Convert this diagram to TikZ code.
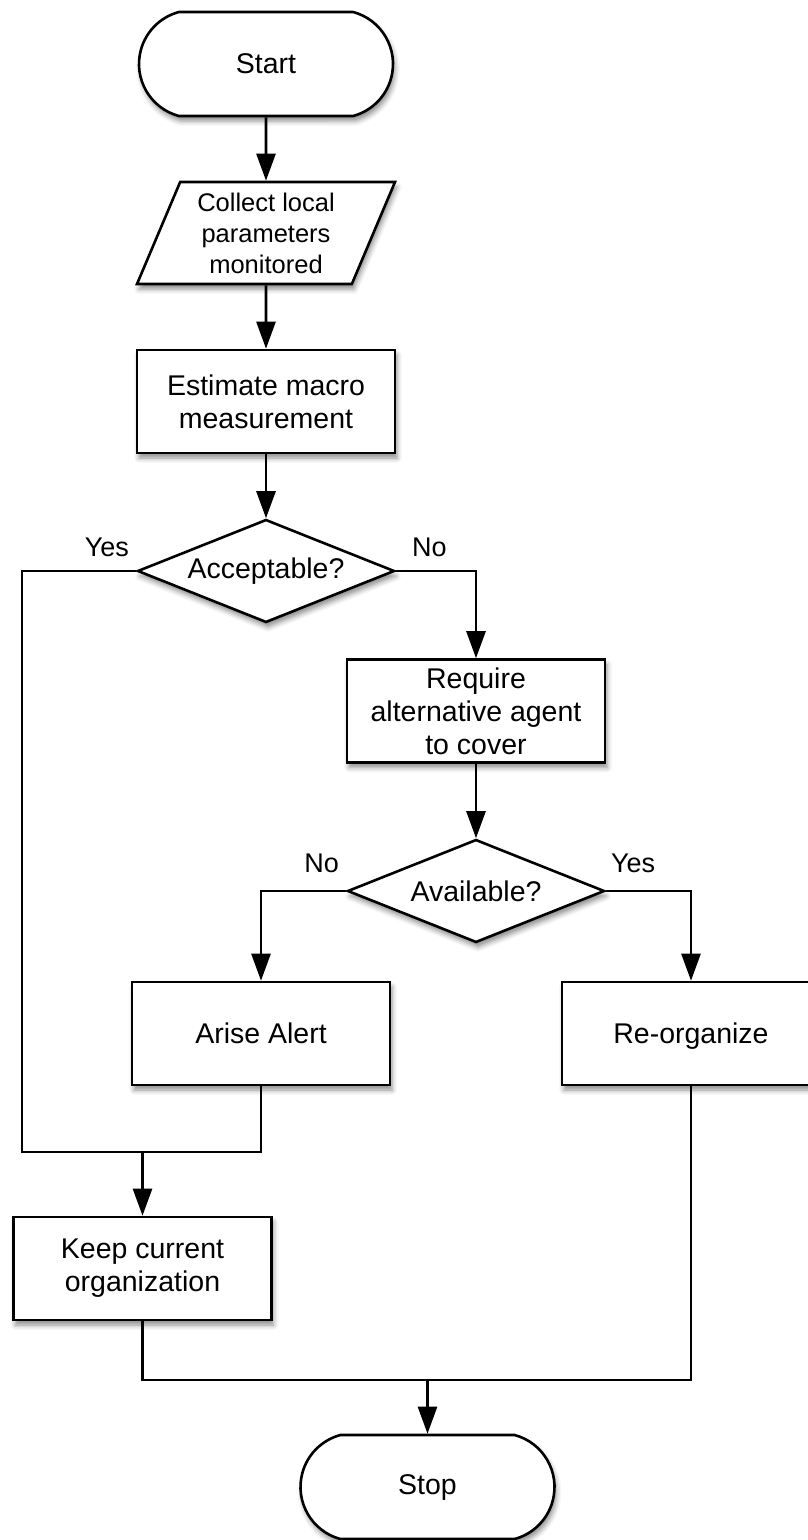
\documentclass[tikz,border=0pt]{standalone}
\usepackage{fontspec}
\setmainfont{Liberation Sans}
\usetikzlibrary{positioning,arrows.meta,shapes.geometric,shapes.misc,shadows.blur}

\begin{document}
\begin{tikzpicture}[x=1pt,y=-1pt,line width=2.6pt,
    every node/.style={font=\fontsize{28.5}{33}\selectfont,align=center,inner sep=2pt},
    boxshadow/.style={blur shadow={shadow xshift=2pt,shadow yshift=-5pt,shadow blur radius=5pt,shadow opacity=45}},
    terminal/.style={rounded rectangle,rounded rectangle arc length=150,draw,fill=white,boxshadow,minimum width=258pt,minimum height=104pt},
    io/.style={trapezium,trapezium left angle=63,trapezium right angle=117,trapezium stretches body,draw,fill=white,boxshadow,minimum width=258pt,minimum height=102pt,font=\fontsize{25.5}{31}\selectfont},
    process/.style={rectangle,draw,fill=white,boxshadow,minimum width=258pt,minimum height=103pt},
    decision/.style={diamond,aspect=2.5,draw,fill=white,boxshadow,inner sep=0pt,minimum width=257pt,minimum height=103pt},
    lbl/.style={font=\fontsize{27}{30}\selectfont},
    arrow/.style={-{Triangle[length=27pt,width=19pt]}}]
    \useasboundingbox (0,0) rectangle (807,1540);

    \node[terminal] (start) at (266,64) {Start};
    \node[io] (collect) at (266,233) {Collect local\\parameters\\monitored};
    \node[process] (estim) at (266,401.5) {Estimate macro\\measurement};
    \node[decision] (acc) at (266,571) {Acceptable?};
    \node[process] (req) at (476,711) {Require\\alternative agent\\to cover};
    \node[decision] (avail) at (476,891) {Available?};
    \node[process] (arise) at (261,1033.5) {Arise Alert};
    \node[process,text depth=0pt] (reorg) at (691,1033.5) {Re-organize};
    \node[process] (keep) at (142.5,1268.5) {Keep current\\organization};
    \node[terminal] (stop) at (427.5,1487) {Stop};

    \node[lbl,above left=11pt and 4pt of acc.west] (accyes) {Yes};
    \node[lbl,above right=11pt and 13pt of acc.east] (accno) {No};
    \node[lbl,above left=15pt and 4pt of avail.west] (avno) {No};
    \node[lbl,above right=15pt and 2pt of avail.east] (avyes) {Yes};

    \coordinate (lft) at (22,1152);
    \coordinate (merge) at (keep.north |- lft);
    \coordinate (low) at (427.5,1380);

    \draw[arrow] (start) -- (collect);
    \draw[arrow] (collect) -- (estim);
    \draw[arrow] (estim) -- (acc);
    \draw[arrow] (acc.east) -| (req.north);
    \draw[arrow] (req) -- (avail);
    \draw[arrow] (avail.west) -| (arise.north);
    \draw[arrow] (avail.east) -| (reorg.north);
    \draw (acc.west) -| (lft) -- (lft -| arise.south) -- (arise.south);
    \draw[arrow] (merge) -- (keep.north);
    \draw (keep.south) |- (low) -| (reorg.south);
    \draw[arrow] (low) -- (stop.north);
\end{tikzpicture}
\end{document}
